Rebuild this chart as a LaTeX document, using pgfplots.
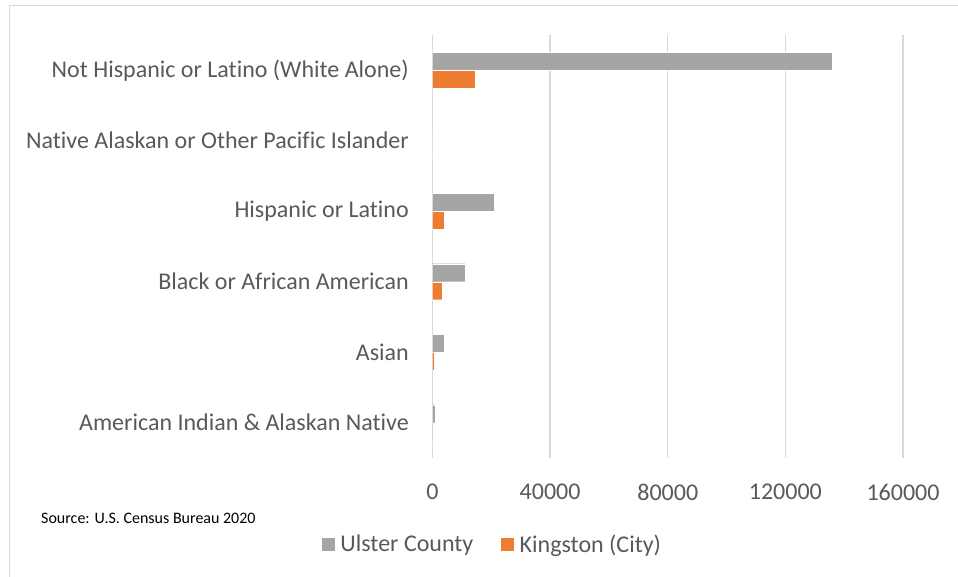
\documentclass[border=0pt]{standalone}
\usepackage{pgfplots}
\pgfplotsset{compat=1.18}
\usepackage{fontspec}
\setmainfont{Carlito}[Ligatures=NoCommon]
\definecolor{gridc}{HTML}{D9D9D9}
\definecolor{txt}{HTML}{595959}
\definecolor{ulster}{HTML}{A5A5A5}
\definecolor{kingston}{HTML}{ED7D31}
\begin{document}
\begin{tikzpicture}[x=1pt,y=1pt]
\useasboundingbox (0,0) rectangle (958,577);
\draw[gridc, line width=1.3pt] (9.5,0) -- (9.5,571.5) -- (958,571.5);
\begin{axis}[
  at={(432.5pt,119pt)}, anchor=south west,
  scale only axis, width=470.5pt, height=423pt,
  xbar, bar width=18pt,
  xmin=0, xmax=160000, ymin=-0.5, ymax=5.5,
  xtick={0,40000,80000,120000,160000},
  ytick={0,1,2,3,4,5},
  yticklabels={American Indian \& Alaskan Native, Asian, Black or African American, Hispanic or Latino, Native Alaskan or Other Pacific Islander, Not Hispanic or Latino (White Alone)},
  scaled x ticks=false,
  /pgf/number format/assume math mode=true,
  xticklabel={\pgfmathprintnumber[fixed,precision=0,1000 sep={}]{\tick}},
  xmajorgrids, major grid style={gridc, line width=1.4pt},
  axis line style={draw=none},
  major tick length=0pt,
  tick label style={font=\fontsize{24}{28}\selectfont, text=txt},
  xticklabel style={inner sep=0pt, anchor=north, yshift=-26pt},
  yticklabel style={inner sep=0pt, anchor=east, xshift=-23.5pt},
  legend style={at={(0.1297,-0.2033)}, anchor=center, draw=none, fill=none,
    font=\fontsize{24}{28}\selectfont, text=txt, legend columns=2,
    nodes={inner xsep=5pt, inner ysep=3pt},
    /tikz/every even column/.append style={column sep=22pt}},
  legend cell align=left,
  legend image code/.code={\fill[#1] (0pt,-7pt) rectangle (14pt,7pt);},
]
\addplot[draw=white, line width=0.4pt, fill=ulster, bar shift=9pt] coordinates {
  (890,0) (3840,1) (11090,2) (21080,3) (100,4) (136000,5)};
\addplot[draw=white, line width=0.4pt, fill=kingston, bar shift=-9pt] coordinates {
  (200,0) (700,1) (3160,2) (4080,3) (20,4) (14500,5)};
\legend{Ulster County, Kingston (City)}
\end{axis}
\node[anchor=west, inner sep=0pt, font=\fontsize{16}{19}\selectfont] at (41,59) {Source: U.S. Census Bureau 2020};
\end{tikzpicture}
\end{document}
